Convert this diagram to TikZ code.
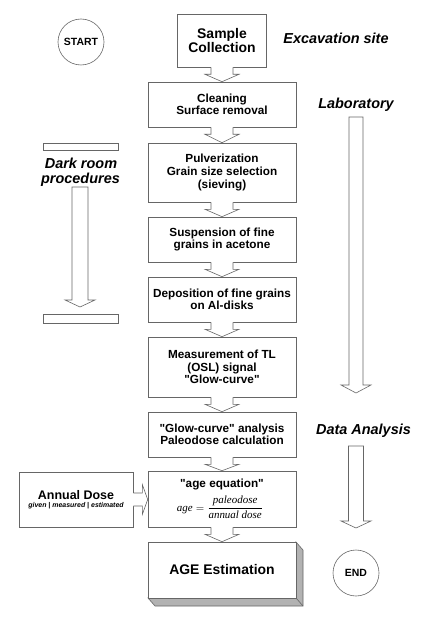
\documentclass[tikz,border=0pt]{standalone}
\usepackage{fontspec}
\setmainfont{Liberation Sans}[Ligatures=TeXOff]
\newfontfamily\eqfont{Liberation Serif}
\usetikzlibrary{calc}
\newcommand\fsz[2]{\fontsize{#1}{#2}\selectfont}
\tikzset{
  ln/.style={draw=black!60, line width=0.6bp, line join=miter},
  box/.style={ln, fill=white, rectangle, inner sep=0pt, align=center,
              font=\bfseries\fsz{11.8}{12.6}},
  lab/.style={font=\bfseries\itshape\fsz{14.5}{15.5}, inner sep=0pt, anchor=base},
  term/.style={ln, circle, minimum size=46bp, inner sep=0pt,
               font=\bfseries\fsz{10.5}{11}},
  bar/.style={ln, rectangle, inner sep=0pt, minimum width=75bp},
  plain/.style={inner sep=0pt},
}
% block arrow from box #1 to box #2
\newcommand\flowarrow[2]{%
  \fill[white] ($(#1.south)+(-11,-1)$) -- ($(#1.south)+(-11,7)$) -- ($(#1.south)+(-17,7)$)
     -- (#2.north) -- ($(#1.south)+(17,7)$) -- ($(#1.south)+(11,7)$) -- ($(#1.south)+(11,-1)$) -- cycle;
  \draw[ln] ($(#1.south)+(-11,0)$) -- ($(#1.south)+(-11,7)$) -- ($(#1.south)+(-17,7)$)
     -- (#2.north) -- ($(#1.south)+(17,7)$) -- ($(#1.south)+(11,7)$) -- ($(#1.south)+(11,0)$);
}
% side arrow: top coordinate, tip coordinate, shaft half width, head half width, head length
\newcommand\sidearrow[5]{%
  \draw[ln, fill=white] ($(#1)+(-#3,0)$) -- ($(#2)+(-#3,-#5)$) -- ($(#2)+(-#4,-#5)$) -- (#2)
     -- ($(#2)+(#4,-#5)$) -- ($(#2)+(#3,-#5)$) -- ($(#1)+(#3,0)$) -- cycle;
}
\begin{document}
\begin{tikzpicture}[x=1bp, y=-1bp]
\useasboundingbox (0,0) rectangle (444,628);
\fill[white] (0,0) rectangle (444,628);

% terminals
\node[term] (start) at (81,42) {START};
\node[term] (end) at (356,573) {END};

% main boxes
\node[box, minimum width=89bp, minimum height=53bp, font=\bfseries\fsz{14}{14.4}] (samp) at (222,40.5) {Sample\\Collection};
\node[box, minimum width=148bp, minimum height=45bp] (clean) at (222,104.5) {Cleaning\\Surface removal};
\node[box, minimum width=148bp, minimum height=59bp] (pulv) at (222,172.5) {Pulverization\\Grain size selection\\(sieving)};
\node[box, minimum width=148bp, minimum height=45bp] (susp) at (222,239.5) {Suspension of fine\\grains in acetone};
\node[box, minimum width=148bp, minimum height=45bp] (depo) at (222,299.5) {Deposition of fine grains\\on Al-disks};
\node[box, minimum width=148bp, minimum height=60bp] (meas) at (222,367) {Measurement of TL\\(OSL) signal\\"Glow-curve"};
\node[box, minimum width=148bp, minimum height=45bp] (glow) at (222,434.5) {"Glow-curve" analysis\\Paleodose calculation};
\node[box, minimum width=148bp, minimum height=56bp] (ageq) at (222,499) {};
\node[plain, anchor=base, font=\bfseries\fsz{11.8}{12.6}] (ageqt) at (222,487) {"age equation"};
\node[plain, font=\eqfont\itshape\fsz{11}{13}] (ageqf) at (220,507.5)
  {$\displaystyle\mbox{age}=\frac{\mbox{paleodose}}{\mbox{annual dose}}$};

% annual dose
\node[box, minimum width=114bp, minimum height=55bp] (annual) at (76,499.5) {};
\node[plain, anchor=base, font=\bfseries\fsz{12.5}{13}] (annualt) at (76,499) {Annual Dose};
\node[plain, anchor=base, font=\bfseries\itshape\fsz{7}{8}] (annuals) at (76,507.5) {given | measured | estimated};

% AGE estimation with 3D edge
\fill[gray!60, draw=black!60, line width=0.6bp] (296,542) -- (303,550) -- (303,606) -- (155,606) -- (148,598) -- (296,598) -- cycle;
\node[box, minimum width=148bp, minimum height=56bp, font=\bfseries\fsz{14}{15}] (est) at (222,570) {AGE Estimation};
\draw[ln] (est.south east) -- (303,606);

% flow arrows
\flowarrow{samp}{clean}
\flowarrow{clean}{pulv}
\flowarrow{pulv}{susp}
\flowarrow{susp}{depo}
\flowarrow{depo}{meas}
\flowarrow{meas}{glow}
\flowarrow{glow}{ageq}
\flowarrow{ageq}{est}

% annual dose arrow
\fill[white] ($(annual.east)+(-1,-6.5)$) -- ($(annual.east)+(9,-6.5)$) -- ($(annual.east)+(9,-15)$)
  -- (ageq.west |- annual.east) -- ($(annual.east)+(9,15)$) -- ($(annual.east)+(9,6.5)$) -- ($(annual.east)+(-1,6.5)$) -- cycle;
\draw[ln] (annual.east) ++(0,-6.5) -- ($(annual.east)+(9,-6.5)$) -- ($(annual.east)+(9,-15)$)
  -- (ageq.west |- annual.east) -- ($(annual.east)+(9,15)$) -- ($(annual.east)+(9,6.5)$) -- ($(annual.east)+(0,6.5)$);

% side labels
\node[lab] (exc) at (336,44) {Excavation site};
\node[lab] (labo) at (356,109) {Laboratory};
\node[lab] (data) at (363.5,434) {Data Analysis};
\node[lab] (darkA) at (81,169) {Dark room};
\node[lab] (darkB) at (80.5,184) {procedures};

% dark room bars
\node[bar, minimum height=7bp] (dtop) at (80.5,146.5) {};
\node[bar, minimum height=9bp] (dbot) at (80.5,318.5) {};

% side arrows
\coordinate (labtop) at (356,117);
\coordinate (labtip) at (356,393);
\sidearrow{labtop}{labtip}{7}{15}{8}
\coordinate (darktop) at (80,187);
\coordinate (darktip) at (80,307);
\sidearrow{darktop}{darktip}{8}{15}{7}
\coordinate (datatop) at (356,446);
\coordinate (datatip) at (356,528);
\sidearrow{datatop}{datatip}{7.5}{15}{7}
\end{tikzpicture}
\end{document}
